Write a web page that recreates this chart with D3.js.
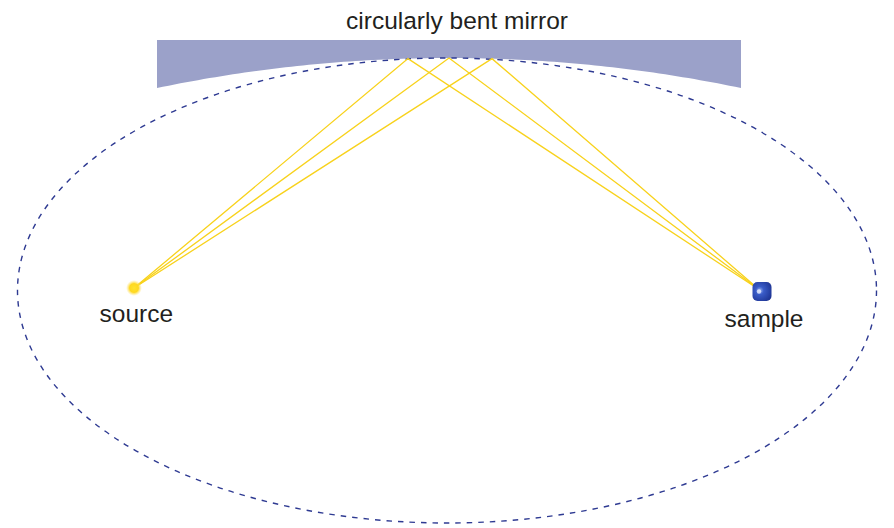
<!DOCTYPE html>
<html>
<head>
<meta charset="utf-8">
<script src="https://cdn.jsdelivr.net/npm/d3@7"></script>
<style>
  html, body { margin: 0; padding: 0; background: #fff; }
  svg { display: block; }
  text { font-family: "Liberation Sans", Arial, sans-serif; fill: #231f20; }
</style>
</head>
<body>
<div id="chart"></div>
<script>
// diagram coordinates, origin at the centre of the ellipse, y pointing up
const ellipseRadii = [429.5, 232.5];          // semi-axes
const mirrorEdges = [-290, 294];              // left / right end of the mirror
const mirrorLevels = [250.5, 202.5, 232.5];   // back face, edge height, apex height
const mirrorHitX = [-39, 2, 45];              // where the rays touch the mirror
const source = [-313, 2.5];
const sample = [312, 1];
const crystalCentre = [315, -1];
const labels = ["circularly bent mirror", "source", "sample"];
const labelPos = [[10, 262], [-347.5, -31.5], [-182.5 + 460, -36.5]];

const width = 894, height = 528;

const x = d3.scaleLinear().domain([-447, 447]).range([0, width]);
const y = d3.scaleLinear().domain([290.5, -237.5]).range([0, height]);

const svg = d3.select("#chart").append("svg")
	.attr("width", width)
	.attr("height", height);

const defs = svg.append("defs");

const glow = defs.append("radialGradient").attr("id", "glow");
glow.append("stop").attr("offset", "0%").attr("stop-color", "#ffe22e");
glow.append("stop").attr("offset", "55%").attr("stop-color", "#ffd81f");
glow.append("stop").attr("offset", "100%").attr("stop-color", "#ffe680").attr("stop-opacity", 0);

const crystal = defs.append("radialGradient").attr("id", "crystal")
	.attr("cx", "38%").attr("cy", "45%").attr("r", "70%");
crystal.append("stop").attr("offset", "0%").attr("stop-color", "#9fb5f2");
crystal.append("stop").attr("offset", "30%").attr("stop-color", "#3a5cc8");
crystal.append("stop").attr("offset", "100%").attr("stop-color", "#1d3392");

// mirror: flat back, circular front face through the two edges and the apex
const halfChord = (x(mirrorEdges[1]) - x(mirrorEdges[0])) / 2;
const sag = y(mirrorLevels[2]) - y(mirrorLevels[1]);
const R = (halfChord * halfChord + sag * sag) / (2 * Math.abs(sag));
const arcCx = (x(mirrorEdges[0]) + x(mirrorEdges[1])) / 2;
const arcCy = y(mirrorLevels[2]) + R;

function mirrorY(px) {
	return arcCy - Math.sqrt(R * R - (px - arcCx) * (px - arcCx));
}

const arcPts = d3.range(0, 101).map(i => {
	const px = x(mirrorEdges[1]) - i * (2 * halfChord) / 100;
	return [px, mirrorY(px)];
});
const mirrorPts = [[x(mirrorEdges[0]), y(mirrorLevels[0])], [x(mirrorEdges[1]), y(mirrorLevels[0])]]
	.concat(arcPts);

svg.append("path")
	.attr("d", d3.line()(mirrorPts) + "Z")
	.attr("fill", "#9ba1c9");

// dashed ellipse
svg.append("ellipse")
	.attr("cx", x(0))
	.attr("cy", y(0))
	.attr("rx", x(ellipseRadii[0]) - x(0))
	.attr("ry", y(0) - y(ellipseRadii[1]))
	.attr("fill", "none")
	.attr("stroke", "#2e3a92")
	.attr("stroke-width", 1.4)
	.attr("stroke-dasharray", "5.5,6");

// rays source -> mirror -> sample
const rays = svg.append("g")
	.attr("fill", "none")
	.attr("stroke", "#f8d21c")
	.attr("stroke-width", 1.3);

mirrorHitX.forEach(hx => {
	const hit = [x(hx), mirrorY(x(hx))];
	rays.append("path")
		.attr("d", d3.line()([[x(source[0]), y(source[1])], hit, [x(sample[0]), y(sample[1])]]));
});

// source glow
svg.append("circle")
	.attr("cx", x(source[0]))
	.attr("cy", y(source[1]))
	.attr("r", 8)
	.attr("fill", "url(#glow)");

// sample crystal
const s = 19;
svg.append("rect")
	.attr("x", x(crystalCentre[0]) - s / 2)
	.attr("y", y(crystalCentre[1]) - s / 2)
	.attr("width", s)
	.attr("height", s)
	.attr("rx", 5)
	.attr("fill", "url(#crystal)");
svg.append("circle")
	.attr("cx", x(crystalCentre[0]) - 3)
	.attr("cy", y(crystalCentre[1]))
	.attr("r", 2.2)
	.attr("fill", "#e8eeff")
	.attr("opacity", 0.8);

// labels
svg.selectAll("text.lbl")
	.data(labels)
	.enter().append("text")
	.attr("class", "lbl")
	.attr("x", (d, i) => x(labelPos[i][0]))
	.attr("y", (d, i) => y(labelPos[i][1]))
	.attr("text-anchor", (d, i) => i === 0 ? "middle" : "start")
	.style("font-size", "24.5px")
	.text(d => d);
</script>
</body>
</html>
